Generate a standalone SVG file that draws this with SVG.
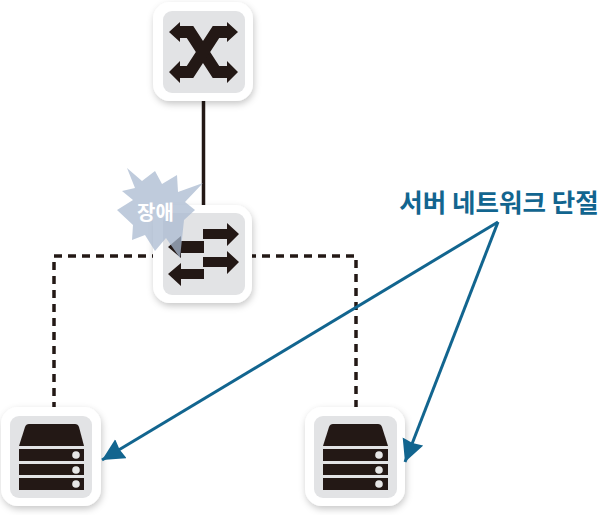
<svg xmlns="http://www.w3.org/2000/svg" width="600" height="515" viewBox="0 0 600 515">
<defs>
<filter id="sh" x="-20%" y="-20%" width="140%" height="140%"><feDropShadow dx="1" dy="3" stdDeviation="3.5" flood-color="#000" flood-opacity="0.22"/></filter>
<marker id="ah" markerUnits="userSpaceOnUse" markerWidth="26" markerHeight="26" refX="22" refY="11" orient="auto"><path d="M0 0L22 11L0 22L1.5 11Z" fill="#12658f"/></marker>
</defs>
<style>
.card{fill:#fff;filter:url(#sh)}
.well{fill:#e2e3e5}
.ic{fill:#231815}
.shaft{fill:none;stroke:#231815;stroke-width:12}
.dash{fill:none;stroke:#231815;stroke-width:3.5;stroke-dasharray:8 6}
.dot{fill:#e6e6e6}
.lbl{font-family:"Noto Sans CJK KR","Noto Sans",sans-serif;font-weight:700}
</style>
<g id="connectors">
<line x1="203.5" y1="100" x2="203.5" y2="206" stroke="#231815" stroke-width="3.5"/>
<path class="dash" d="M160 256H54V408"/>
<path class="dash" d="M248 256H356V408"/>
</g>
<g id="core-switch">
<rect class="card" x="153" y="2" width="100" height="99" rx="17"/>
<rect class="well" x="163" y="11" width="82" height="82" rx="9"/>
<path class="shaft" d="M178 32H190L216 72H229"/>
<path class="shaft" d="M229 32H216L190 72H178"/>
<path class="ic" d="M169 32L180 22V42ZM238 32L227 22V42ZM169 72L180 61V83ZM238 72L227 61V83Z"/>
</g>
<g id="access-switch">
<rect class="card" x="153" y="205" width="99" height="98" rx="17"/>
<rect class="well" x="163" y="213" width="82" height="82" rx="9"/>
<path class="ic" d="M203 229H227V223L239 234L227 246V239H203Z"/>
<path class="ic" d="M203 257H227V251L239 262L227 274V267H203Z"/>
<path class="ic" d="M204 241H181V236L168 247L181 258V253H204Z"/>
<path class="ic" d="M204 269H181V263L168 274L181 286V279H204Z"/>
</g>
<g id="server-left">
<rect class="card" x="1" y="407" width="100" height="99" rx="17"/>
<rect class="well" x="10" y="416" width="82" height="82" rx="9"/>
<path class="ic" d="M29 424H75Q78 424 79 427L84 446H19L25 427Q26 424 29 424Z"/>
<rect class="ic" x="19" y="449" width="65" height="12"/>
<rect class="ic" x="19" y="464" width="65" height="11"/>
<rect class="ic" x="19" y="478" width="65" height="12"/>
<circle class="dot" cx="76" cy="455" r="3.8"/><circle class="dot" cx="76" cy="470" r="3.8"/><circle class="dot" cx="76" cy="484" r="3.8"/>
</g>
<g id="server-right">
<rect class="card" x="305" y="407" width="100" height="99" rx="17"/>
<rect class="well" x="314" y="416" width="83" height="82" rx="9"/>
<path class="ic" d="M333 424H378Q381 424 382 427L388 446H323L329 427Q330 424 333 424Z"/>
<rect class="ic" x="323" y="449" width="65" height="12"/>
<rect class="ic" x="323" y="464" width="65" height="11"/>
<rect class="ic" x="323" y="478" width="65" height="12"/>
<circle class="dot" cx="379" cy="455" r="3.8"/><circle class="dot" cx="379" cy="470" r="3.8"/><circle class="dot" cx="379" cy="484" r="3.8"/>
</g>
<g id="fault">
<path d="M127 168L142 181L155 171L162 184L177 175L178 192L203 183L185 202L195 210L184 220L180 258L166 238L155 251L145 235L132 240L133 225L117 210L133 200L122 191L135 188Z" fill="#a9b9d0" fill-opacity="0.75"/>
<text class="lbl" x="155.5" y="220" font-size="20" fill="#fff" text-anchor="middle">장애</text>
</g>
<g id="callout">
<text class="lbl" x="499" y="212" font-size="25.5" fill="#12658f" text-anchor="middle">서버 네트워크 단절</text>
<line x1="498" y1="222" x2="102" y2="460" stroke="#12658f" stroke-width="3" marker-end="url(#ah)"/>
<line x1="498" y1="222" x2="405" y2="462" stroke="#12658f" stroke-width="3" marker-end="url(#ah)"/>
</g>
</svg>
